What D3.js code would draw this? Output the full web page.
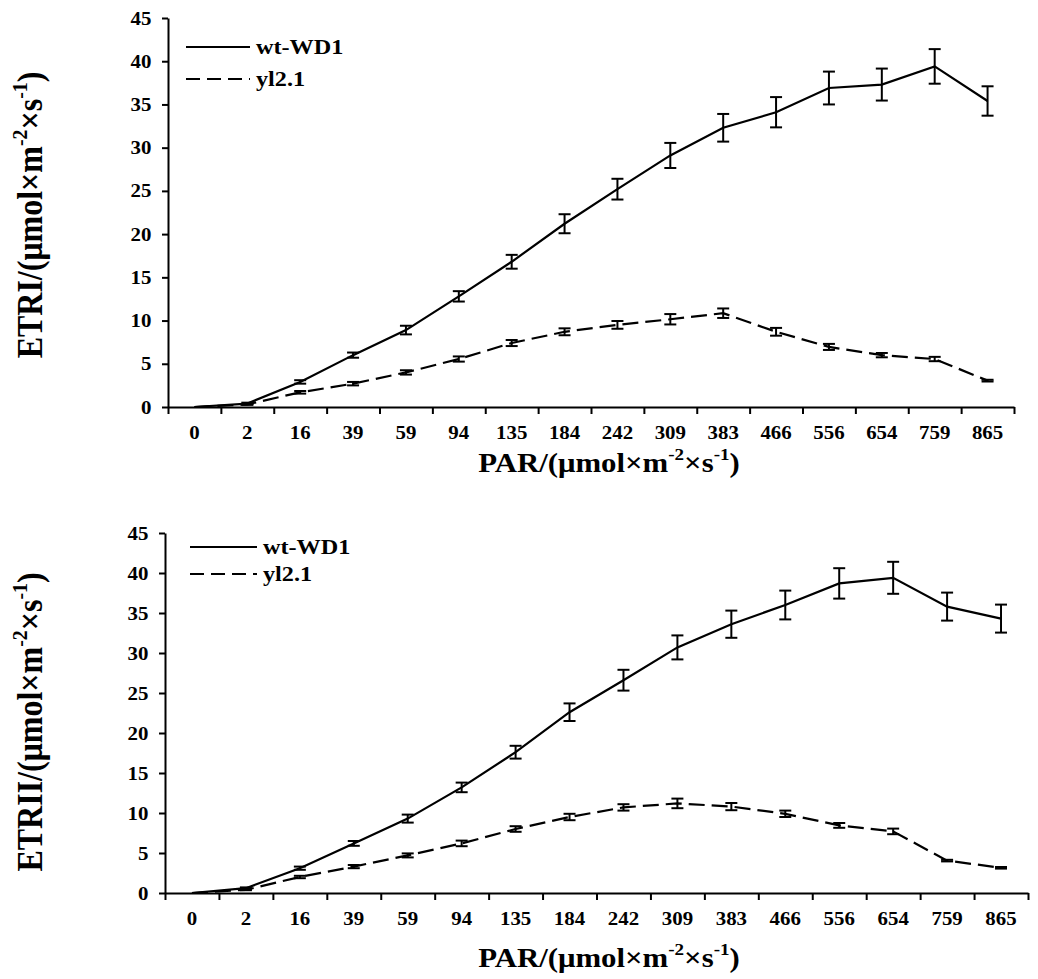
<!DOCTYPE html>
<html lang="en">
  <head>
    <meta charset="UTF-8" />
    <title>ETR light curves</title>
    <script src="https://d3js.org/d3.v7.min.js"></script>
  </head>
  <body style="margin: 0">
    <div id="chart"></div>
    <script>
      // PAR steps (category axis)
      const parLabels = ["0", "2", "16", "39", "59", "94", "135", "184", "242", "309", "383", "466", "556", "654", "759", "865"];
      const yTicks = [0, 5, 10, 15, 20, 25, 30, 35, 40, 45];

      // ETR I
      const etr1Wt = [0, 0.4, 2.9, 6.0, 8.9, 12.8, 16.8, 21.2, 25.2, 29.1, 32.3, 34.1, 36.9, 37.3, 39.4, 35.4];
      const etr1WtErr = [0, 0.1, 0.2, 0.3, 0.5, 0.6, 0.8, 1.1, 1.2, 1.45, 1.6, 1.75, 1.9, 1.85, 2.0, 1.7];
      const etr1Yl = [0, 0.3, 1.7, 2.7, 4.0, 5.55, 7.4, 8.7, 9.5, 10.15, 10.85, 8.7, 6.95, 6.0, 5.55, 3.05];
      const etr1YlErr = [0, 0.05, 0.15, 0.2, 0.25, 0.3, 0.35, 0.4, 0.45, 0.6, 0.55, 0.45, 0.35, 0.25, 0.25, 0.1];

      // ETR II
      const etr2Wt = [0, 0.6, 3.1, 6.2, 9.3, 13.2, 17.6, 22.6, 26.6, 30.7, 33.6, 36.0, 38.7, 39.4, 35.8, 34.3];
      const etr2WtErr = [0, 0.1, 0.2, 0.3, 0.5, 0.6, 0.8, 1.1, 1.3, 1.5, 1.7, 1.8, 1.9, 2.0, 1.75, 1.75];
      const etr2Yl = [0, 0.4, 2.0, 3.3, 4.7, 6.2, 8.0, 9.5, 10.7, 11.2, 10.8, 9.9, 8.45, 7.7, 4.05, 3.15];
      const etr2YlErr = [0, 0.05, 0.15, 0.2, 0.25, 0.35, 0.35, 0.4, 0.4, 0.6, 0.45, 0.4, 0.3, 0.35, 0.1, 0.1];

      const seriesNames = ["wt-WD1", "yl2.1"];

      const FONT = "Liberation Serif";

      const svg = d3.select("#chart").append("svg").attr("width", 1038).attr("height", 979);

      const stretch = 1.1; // source glyphs look a bit wide
      const dash = "16,7";

      // unit label with superscripts
      function unitLabel(text, prefix, size) {
        const parts = [
          [prefix + "/(μmol×m", 0],
          ["-2", 1],
          ["×s", 0],
          ["-1", 1],
          [")", 0],
        ];
        const sup = size * 0.42;
        parts.forEach(([s, isSup], i) => {
          const t = text.append("tspan").text(s);
          if (isSup) {
            t.attr("font-size", size * 0.62).attr("dy", -sup);
          } else {
            t.attr("font-size", size);
            if (i > 0) t.attr("dy", sup);
          }
        });
      }

      function drawPanel(p) {
        const g = svg.append("g");

        const x = d3.scaleBand().domain(parLabels).range([p.x0, p.x1]).padding(0);
        const xTicks = d3.scaleLinear().domain([0, parLabels.length]).range([p.x0, p.x1]);
        const y = d3.scaleLinear().domain([0, 45]).range([p.yBottom, p.yTop]);
        const cx = (d) => x(d) + x.bandwidth() / 2;

        // y axis
        const yAxis = g
          .append("g")
          .attr("transform", `translate(${p.x0},0)`)
          .call(d3.axisLeft(y).tickValues(yTicks).tickSize(6).tickSizeOuter(0).tickPadding(9));
        yAxis.select(".domain").attr("stroke-width", 2);
        yAxis.selectAll(".tick line").attr("stroke-width", 2);
        yAxis.selectAll(".tick text").attr("font-size", 19).attr("transform", `scale(${stretch},1)`);

        // x axis: marks at band edges, labels in the middle
        const xMarks = g
          .append("g")
          .attr("transform", `translate(0,${p.yBottom})`)
          .call(d3.axisBottom(xTicks).ticks(parLabels.length).tickFormat("").tickSize(7).tickSizeOuter(0));
        xMarks.select(".domain").attr("stroke-width", 2);
        xMarks.selectAll(".tick line").attr("stroke-width", 2);

        const xLabels = g
          .append("g")
          .attr("transform", `translate(0,${p.yBottom})`)
          .call(d3.axisBottom(x).tickSize(0).tickPadding(p.xPad));
        xLabels.select(".domain").remove();
        xLabels.selectAll(".tick text").attr("font-size", 19).attr("transform", `scale(${stretch},1)`);

        // axis titles
        const xt = g
          .append("text")
          .attr("text-anchor", "middle")
          .attr("transform", `translate(${p.xTitleX},${p.xTitleY}) scale(${stretch},1)`);
        unitLabel(xt, "PAR", 28);

        const yt = g
          .append("text")
          .attr("text-anchor", "middle")
          .attr("transform", `translate(${p.yTitleX},${p.yTitleY}) rotate(-90) scale(1,${stretch})`);
        unitLabel(yt, p.yName, 32);

        // series
        const series = [
          {vals: p.wt, errs: p.wtErr, dash: null},
          {vals: p.yl, errs: p.ylErr, dash: dash},
        ];

        const line = d3
          .line()
          .x((d, i) => cx(parLabels[i]))
          .y((d) => y(d));

        series.forEach((s) => {
          g.append("path")
            .datum(s.vals)
            .attr("d", line)
            .attr("fill", "none")
            .attr("stroke", "#000")
            .attr("stroke-width", 2.2)
            .attr("stroke-dasharray", s.dash);

          const bars = g
            .append("g")
            .selectAll("g")
            .data(s.vals.map((v, i) => ({v, e: s.errs[i], c: parLabels[i]})).filter((d) => d.e > 0))
            .join("g")
            .attr("stroke", "#000")
            .attr("stroke-width", 2);
          bars
            .append("line")
            .attr("x1", (d) => cx(d.c))
            .attr("x2", (d) => cx(d.c))
            .attr("y1", (d) => y(d.v - d.e))
            .attr("y2", (d) => y(d.v + d.e));
          [-1, 1].forEach((sgn) => {
            bars
              .append("line")
              .attr("x1", (d) => cx(d.c) - 6)
              .attr("x2", (d) => cx(d.c) + 6)
              .attr("y1", (d) => y(d.v + sgn * d.e))
              .attr("y2", (d) => y(d.v + sgn * d.e));
          });
        });

        // legend
        const lg = g.append("g").attr("transform", `translate(${p.legX},${p.legY})`);
        seriesNames.forEach((name, i) => {
          const yy = i * p.legGap;
          lg.append("line")
            .attr("x1", 0)
            .attr("x2", p.legLen)
            .attr("y1", yy)
            .attr("y2", yy)
            .attr("stroke", "#000")
            .attr("stroke-width", 2.2)
            .attr("stroke-dasharray", i === 1 ? "14,7" : null);
          lg.append("text")
            .attr("transform", `translate(${p.legLen + 6},${yy + 7}) scale(${stretch},1)`)
            .attr("font-size", 22)
            .text(name);
        });
      }

      drawPanel({
        x0: 168, x1: 1014, yTop: 18, yBottom: 407, xPad: 19,
        xTitleX: 609, xTitleY: 472, yTitleX: 42, yTitleY: 215, yName: "ETRI",
        wt: etr1Wt, wtErr: etr1WtErr, yl: etr1Yl, ylErr: etr1YlErr,
        legX: 186, legY: 47, legGap: 32, legLen: 64,
      });

      drawPanel({
        x0: 165, x1: 1028, yTop: 533, yBottom: 893, xPad: 19,
        xTitleX: 609, xTitleY: 967, yTitleX: 42, yTitleY: 722, yName: "ETRII",
        wt: etr2Wt, wtErr: etr2WtErr, yl: etr2Yl, ylErr: etr2YlErr,
        legX: 190, legY: 547, legGap: 27, legLen: 67,
      });

      // set the face on every text node directly
      svg.selectAll("text").attr("font-family", FONT).attr("font-weight", "bold").attr("fill", "#000");
    </script>
  </body>
</html>
